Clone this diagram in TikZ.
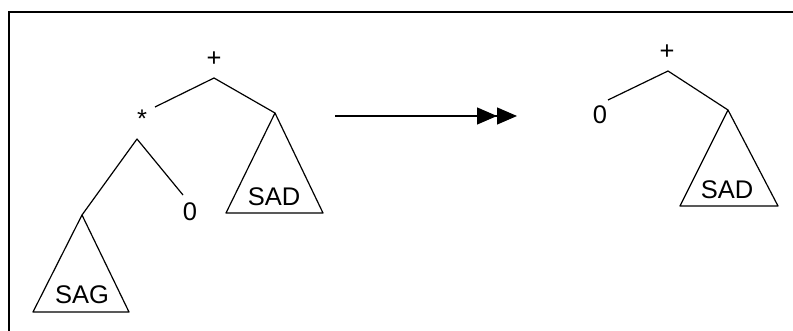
\documentclass[tikz,border=0pt]{standalone}
\usepackage{fontspec}
\setmainfont{Liberation Sans}
\usetikzlibrary{arrows.meta}
\begin{document}
\begin{tikzpicture}[x=1pt,y=-1pt,
  lbl/.style={inner sep=0pt,font=\fontsize{25.5}{25.5}\selectfont},
  edge/.style={line width=1.2pt,line join=round},
  frame/.style={line width=1.5pt}]
\useasboundingbox (0,0) rectangle (793,331);
\draw[frame] (9,331) -- (9,12) -- (793,12);
% left tree
\node[lbl] (plusL) at (214,59) {+};
\node[lbl] (starL) at (142,119) {*};
\node[lbl] (zeroL) at (190,212) {0};
\node[lbl] (sadL) at (274,197) {SAD};
\node[lbl] (sagL) at (82,295) {SAG};
\coordinate (pL) at (214,78);
\coordinate (sL) at (155,107);
\coordinate (sB) at (137,139);
\coordinate (zL) at (183,195);
\coordinate (aD) at (275,113);
\coordinate (dl) at (226,213);
\coordinate (dr) at (323,213);
\coordinate (aG) at (82,215);
\coordinate (gl) at (33,312);
\coordinate (gr) at (129,312);
\draw[edge] (sL) -- (pL) -- (aD);
\draw[edge] (aG) -- (sB) -- (zL);
\draw[edge] (aD) -- (dl) -- (dr) -- cycle;
\draw[edge] (aG) -- (gl) -- (gr) -- cycle;
% arrow
\coordinate (arS) at (335,116);
\coordinate (arE) at (517,116);
\draw[line width=1.2pt,-{Triangle[length=20pt,width=17pt]Triangle[length=20pt,width=17pt]}] (arS) -- (arE);
% right tree
\node[lbl] (plusR) at (667,52) {+};
\node[lbl] (zeroR) at (600,115) {0};
\node[lbl] (sadR) at (727,190) {SAD};
\coordinate (pR) at (668,71);
\coordinate (zR) at (608,100);
\coordinate (aR) at (728,110);
\coordinate (rl) at (680,206);
\coordinate (rr) at (778,206);
\draw[edge] (zR) -- (pR) -- (aR);
\draw[edge] (aR) -- (rl) -- (rr) -- cycle;
\end{tikzpicture}
\end{document}
